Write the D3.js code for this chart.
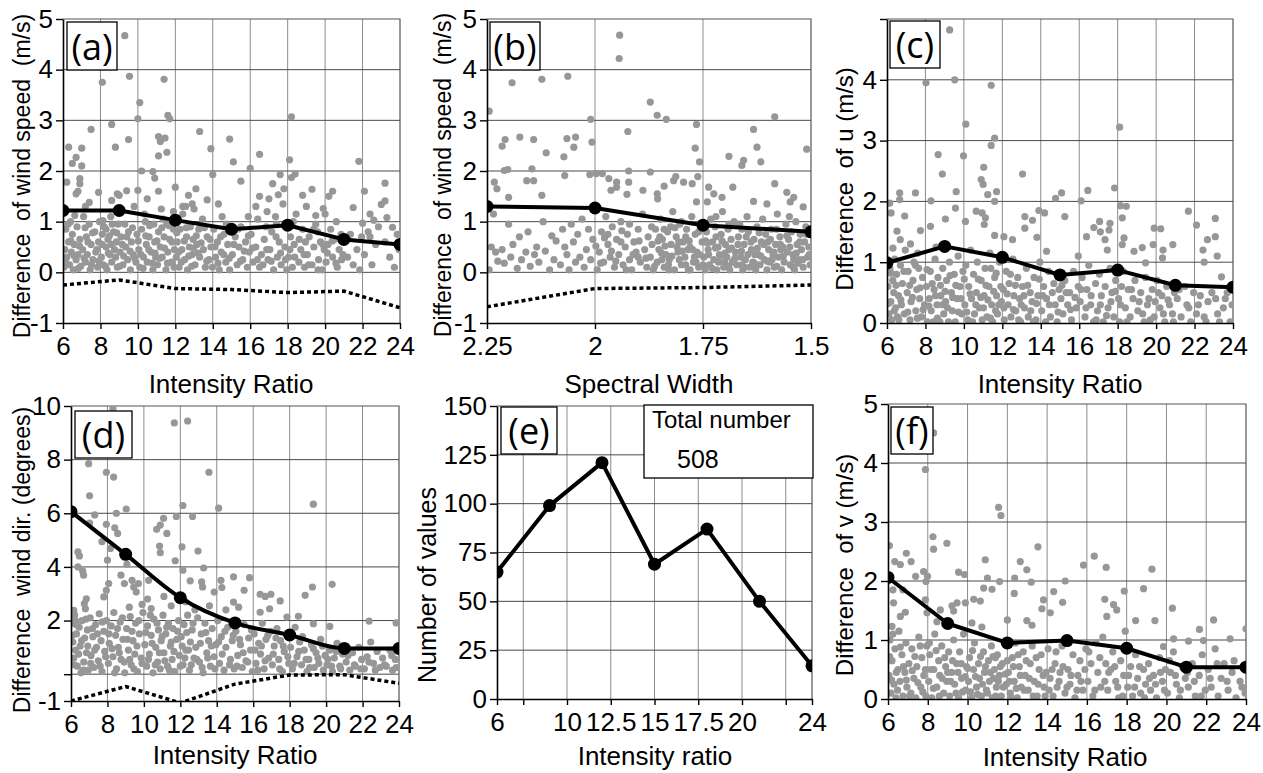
<!DOCTYPE html>
<html lang="en">
<head>
<meta charset="UTF-8">
<title>Wind difference panels</title>
<script src="https://d3js.org/d3.v7.min.js"></script>
<style>
  body { margin: 0; background: #fff; }
  svg text { font-family: "Liberation Sans", Arial, Helvetica, sans-serif; fill: #000; }
  .tick text { font-size: 26px; }
  .tag { font-family: "Open Sans", sans-serif; font-size: 36px; }
  .title { white-space: pre; }
</style>
</head>
<body>
<script>
// ---- tick values and labels ----
const ratioTicks = [6, 8, 10, 12, 14, 16, 18, 20, 22, 24];
const ratioLabels = ["6", "8", "10", "12", "14", "16", "18", "20", "22", "24"];
const widthTicks = [2.25, 2, 1.75, 1.5];
const widthLabels = ["2.25", "2", "1.75", "1.5"];
const speedTicks = [-1, 0, 1, 2, 3, 4, 5];
const speedLabels = ["-1", "0", "1", "2", "3", "4", "5"];
const compTicks = [0, 1, 2, 3, 4, 5];
const uLabels = ["0", "1", "2", "3", "4", ""];
const vLabels = ["0", "1", "2", "3", "4", "5"];
const dirTicks = [-1, 0, 2, 4, 6, 8, 10];
const dirLabels = ["-1", "", "2", "4", "6", "8", "10"];
const countTicks = [0, 25, 50, 75, 100, 125, 150];
const countLabels = ["0", "25", "50", "75", "100", "125", "150"];
const countXTicks = [6, 7.5, 10, 12.5, 15, 17.5, 20, 22.5, 24];
const countXLabels = ["6", "", "10", "12.5", "15", "17.5", "20", "", "24"];

// ---- binned means (solid) and biases (dotted) ----
const ratioX = [6, 9, 12, 15, 18, 21, 24];
const widthX = [2.25, 2.0, 1.75, 1.5];
const meanA = [1.22, 1.22, 1.03, 0.85, 0.93, 0.65, 0.55];
const biasA = [-0.25, -0.15, -0.32, -0.34, -0.4, -0.37, -0.7];
const meanB = [1.3, 1.27, 0.93, 0.8];
const biasB = [-0.68, -0.32, -0.3, -0.25];
const meanC = [0.99, 1.26, 1.08, 0.79, 0.87, 0.62, 0.59];
const meanD = [6.06, 4.47, 2.85, 1.91, 1.46, 0.96, 0.96];
const biasD = [-1, -0.46, -1.07, -0.37, -0.03, -0.02, -0.34];
const countE = [65, 99, 121, 69, 87, 50, 17];
const totalE = 508;
const meanF = [2.06, 1.28, 0.95, 0.99, 0.86, 0.54, 0.54];

// ---- individual differences ----
const scatterA = [
  [9.3,4.67],[8.1,3.75],[9.55,3.87],[11.4,3.81],[10.1,3.35],[10.0,3.03],[11.6,3.1],[11.7,3.03],[8.6,2.92],[13.3,2.78],
  [7.5,2.82],[8.8,2.47],[9.5,2.62],[6.3,2.47],[7.0,2.45],[6.7,2.27],[11.1,2.68],[11.2,2.58],[11.45,2.65],[11.55,2.37],
  [11.1,2.3],[14.9,2.63],[13.9,2.44],[15.1,2.18],[16.5,2.33],[18.2,3.07],[18.1,2.22],[21.8,2.19],[23.2,1.76],[23.2,1.41],
  [23.3,1.08],[23.6,0.89],[23.0,1.34],[22.6,1.03],[22.1,1.6],[22.0,0.97],[21.5,1.28],[20.4,1.6],[20.2,1.5],[19.9,1.26],
  [19.5,1.12],[19.3,1.64],[18.8,1.52],[18.4,1.94],[18.2,1.87],[17.6,1.93],[17.8,1.65],[17.5,1.53],[17.2,1.75],[16.0,2.05],
  [15.9,1.1],[15.5,1.8],[14.0,1.93],[13.7,1.43],[12.0,1.68],[13.1,1.65],[12.7,1.52],[12.9,1.35],[13.0,1.25],[10.2,2.0],
  [10.8,1.99],[10.9,1.86],[11.1,1.6],[9.4,1.61],[9.0,1.52],[8.9,1.55],[8.6,1.42],[7.9,1.58],[7.4,1.38],[7.2,1.3],
  [6.7,1.55],[6.9,1.85],[6.9,1.75],[6.8,1.6],[6.2,1.78],[6.5,2.15],[7.0,2.1],[10.5,1.45],[11.9,1.2],[12.4,1.3],
  [14.3,1.35],[16.3,1.3],[17.0,1.45],[19.0,1.3],[20.0,1.15],[22.4,1.15],[10.0,1.62],
  [6.05,0.1],[6.1,0.45],[6.15,0.85],[6.2,0.3],[6.3,0.6],[6.35,0.15],[6.4,1.0],[6.45,0.4],[6.5,0.75],[6.55,0.05],
  [6.6,0.55],[6.7,0.25],[6.75,0.9],[6.8,0.35],[6.9,0.65],[6.95,0.12],[7.05,0.45],[7.1,1.1],[7.2,0.2],[7.25,0.7],
  [7.3,0.35],[7.4,0.95],[7.45,0.05],[7.5,0.55],[7.6,0.25],[7.7,0.8],[7.75,0.4],[7.85,0.1],[7.9,0.6],[7.95,1.0],
  [8.05,0.3],[8.1,0.75],[8.15,0.15],[8.2,0.9],[8.3,0.5],[8.35,0.05],[8.4,0.65],[8.5,0.35],[8.55,1.1],[8.6,0.2],
  [8.7,0.8],[8.75,0.45],[8.85,0.6],[8.9,0.1],[8.95,0.95],[8.3,0.85],[8.6,0.55],[9.05,0.4],[9.1,0.7],[9.2,0.15],
  [9.3,0.95],[9.35,0.5],[9.45,0.25],[9.5,0.8],[9.6,0.05],[9.65,0.6],[9.75,0.35],[9.8,1.3],[9.9,0.2],[9.95,0.75],
  [10.05,0.45],[10.1,0.1],[10.2,0.85],[10.3,0.3],[10.35,1.15],[10.45,0.55],[10.5,0.2],[10.6,0.7],[10.7,0.4],[10.8,0.05],
  [10.85,0.95],[10.9,0.6],[10.95,0.3],[10.4,1.0],[11.05,0.15],[11.1,0.8],[11.2,0.5],[11.25,1.25],[11.3,0.3],[11.4,0.7],
  [11.5,0.05],[11.55,0.95],[11.6,0.4],[11.7,0.65],[11.8,0.2],[11.9,0.85],[11.95,0.45],[11.35,1.05],[12.05,0.3],[12.1,0.6],
  [12.2,0.1],[12.25,0.85],[12.35,0.45],[12.4,1.15],[12.5,0.25],[12.6,0.7],[12.65,0.05],[12.75,0.5],[12.8,0.9],[12.9,0.35],
  [12.95,0.65],[12.55,1.3],[13.05,0.15],[13.15,0.55],[13.25,0.85],[13.3,0.3],[13.45,1.05],[13.5,0.45],[13.6,0.1],[13.7,0.7],
  [13.8,0.25],[13.9,0.5],[14.05,0.85],[14.15,0.3],[14.25,0.6],[14.35,0.05],[14.45,0.4],[14.6,0.75],[14.7,0.2],[14.8,0.55],
  [14.9,0.05],[14.5,1.1],[15.05,0.35],[15.2,0.7],[15.3,0.15],[15.4,0.5],[15.5,0.9],[15.6,0.25],[15.75,0.6],[15.85,0.1],
  [15.95,0.4],[16.05,0.75],[16.15,0.2],[16.3,0.5],[16.4,1.05],[16.5,0.1],[16.6,0.35],[16.75,0.65],[16.85,0.9],[16.95,0.25],
  [16.5,1.5],[16.9,1.2],[17.05,0.45],[17.15,0.8],[17.25,0.05],[17.35,1.1],[17.45,0.3],[17.55,0.6],[17.65,0.15],[17.75,1.35],
  [17.85,0.5],[17.95,0.05],[17.4,0.95],[18.05,0.3],[18.15,0.7],[18.25,0.1],[18.35,0.55],[18.45,1.15],[18.6,0.2],[18.7,0.45],
  [18.8,0.85],[18.9,0.1],[18.95,0.6],[18.3,1.0],[19.05,0.35],[19.15,0.7],[19.3,0.15],[19.4,0.5],[19.5,0.95],[19.65,0.25],
  [19.75,0.6],[19.85,0.05],[19.95,0.45],[19.6,0.8],[20.05,0.2],[20.15,0.55],[20.3,0.85],[20.4,0.3],[20.5,0.65],[20.65,0.1],
  [20.75,0.45],[20.85,0.75],[20.95,0.35],[20.6,1.0],[21.2,0.3],[21.35,0.75],[21.5,0.15],[21.7,0.45],[21.85,0.05],[21.95,0.7],
  [22.1,0.35],[22.3,0.8],[22.5,0.15],[22.7,0.55],[22.85,0.9],[22.4,0.7],[23.2,0.6],[23.45,0.3],[23.7,0.1],[23.85,0.75],[23.95,0.45],
  [6.12,0.22],[6.27,0.95],[6.41,0.62],[6.58,0.33],[6.63,1.12],[6.82,0.08],[6.88,0.52],[7.13,0.28],[7.18,0.88],[7.33,0.6],
  [7.52,0.15],[7.58,0.78],[7.81,0.45],[7.92,0.22],[8.08,0.55],[8.13,1.02],[8.27,0.12],[8.42,0.38],[8.48,0.72],[8.63,0.95],
  [8.81,0.3],[8.87,0.78],[9.02,0.12],[9.17,0.55],[9.24,0.32],[9.41,0.7],[9.58,0.42],[9.71,0.88],[9.83,0.28],[10.02,0.62],
  [10.17,0.35],[10.28,0.08],[10.42,0.72],[10.58,0.45],[10.63,0.92],[10.77,0.18],[10.92,0.38],[11.02,0.62],[11.17,0.28],[11.28,0.88],
  [11.42,0.48],[11.58,0.18],[11.67,0.92],[11.82,0.6],[11.93,0.1],[12.08,0.78],[12.18,0.4],[12.32,0.2],[12.48,0.62],[12.58,0.88],
  [12.72,0.32],[12.87,0.12],[12.98,0.48],[13.12,0.72],[13.22,0.38],[13.38,0.58],[13.55,0.88],[13.68,0.22],[13.85,0.65],[13.98,0.1],
  [14.12,0.5],[14.28,0.18],[14.42,0.7],[14.58,0.35],[14.72,0.95],[14.88,0.28],[15.12,0.55],[15.35,0.85],[15.48,0.22],[15.68,0.42],
  [15.9,0.72],[16.12,0.48],[16.38,0.25],[16.68,0.15],[16.88,0.45],[17.12,0.22],[17.38,0.7],[17.62,0.38],[17.88,0.25],[18.12,0.45],
  [18.38,0.3],[18.62,0.65],[18.88,0.35],[19.12,0.15],[19.38,0.85],[19.62,0.05],[19.88,0.55],[20.12,0.38],[20.38,0.62],[20.58,0.18],[20.88,0.25]
];

const scatterB = [
  [1.943,4.68],[1.944,4.22],[2.192,3.74],[2.123,3.81],[2.063,3.87],[1.872,3.36],[1.856,3.1],[1.835,3.02],[1.765,2.92],[1.584,3.07],
  [2.245,3.18],[2.01,3.02],[2.007,2.57],[1.924,2.78],[1.768,2.45],[1.633,2.82],[1.625,2.47],[1.51,2.43],[2.174,2.67],[2.142,2.62],
  [2.065,2.64],[2.045,2.67],[2.049,2.47],[2.072,2.28],[2.113,2.36],[2.208,2.62],[2.215,2.49],[2.202,2.03],[2.21,2.01],[2.2,1.48],
  [2.233,1.78],[2.227,1.65],[2.146,2.04],[2.158,1.81],[2.142,1.81],[2.123,1.52],[2.07,1.91],[2.012,1.93],[1.997,1.95],[1.983,1.95],
  [1.968,1.85],[1.95,1.78],[1.963,1.62],[1.95,1.68],[1.922,1.78],[1.922,2.0],[1.926,1.54],[1.889,1.62],[1.872,1.98],[1.855,1.45],
  [1.84,1.7],[1.856,1.55],[1.813,1.89],[1.795,1.78],[1.775,1.75],[1.762,1.89],[1.758,2.18],[1.737,1.68],[1.725,1.55],[1.706,1.48],
  [1.69,2.29],[1.681,1.68],[1.66,2.11],[1.656,2.21],[1.616,2.18],[1.633,1.4],[1.602,1.35],[1.584,1.75],[1.556,1.58],[1.54,1.48],
  [1.548,1.39],[1.518,1.29],[1.74,1.39],[1.765,1.39],[1.818,1.81],
  [2.245,0.05],[2.24,0.5],[2.235,1.15],[2.23,0.4],[2.225,0.22],[2.215,0.45],[2.21,0.18],[2.2,0.95],[2.195,0.3],[2.19,0.55],
  [2.18,0.08],[2.175,0.7],[2.17,0.25],[2.16,0.4],[2.155,0.8],[2.15,0.12],[2.14,0.35],[2.135,0.5],[2.13,0.2],[2.12,1.0],
  [2.115,0.42],[2.105,0.05],[2.1,0.72],[2.095,0.25],[2.09,0.62],[2.08,0.15],[2.075,0.85],[2.07,0.5],[2.065,0.35],[2.06,0.05],
  [2.055,0.95],[2.05,0.6],[2.045,0.2],[2.04,0.75],[2.035,0.3],[2.03,1.05],[2.025,0.1],[2.02,0.45],[2.015,0.85],[2.01,0.25],
  [2.005,0.65],[1.995,0.05],[1.99,0.4],[1.985,0.8],[1.98,0.2],[1.975,1.1],[1.97,0.55],[1.965,0.3],[1.96,0.9],[1.955,0.1],
  [1.95,0.65],[1.945,0.35],[1.94,1.0],[1.935,0.15],[1.93,0.5],[1.925,0.75],[1.92,0.25],[1.915,0.05],[1.91,0.6],[1.905,0.4],
  [1.9,0.85],[1.895,0.2],[1.89,1.15],[1.885,0.45],[1.88,0.1],[1.877,0.7],[1.94,0.6],[1.97,0.75],[1.92,0.95],[1.9,0.3],
  [1.872,0.3],[1.868,0.55],[1.865,0.05],[1.86,0.85],[1.856,0.2],[1.852,0.45],[1.848,1.05],[1.844,0.65],[1.84,0.1],[1.836,0.35],
  [1.832,0.8],[1.828,0.25],[1.824,0.55],[1.82,1.2],[1.816,0.05],[1.812,0.7],[1.808,0.4],[1.804,0.95],[1.8,0.15],[1.796,0.6],
  [1.792,0.3],[1.788,0.85],[1.784,0.05],[1.78,0.5],[1.776,1.1],[1.772,0.2],[1.768,0.75],[1.764,0.4],[1.76,0.1],[1.756,0.95],
  [1.752,0.6],[1.85,0.7],[1.83,0.15],[1.81,0.5],[1.79,0.7],[1.77,0.3],[1.845,0.25],[1.825,0.9],[1.805,0.25],[1.785,0.45],
  [1.748,0.3],[1.745,0.05],[1.742,0.8],[1.738,0.45],[1.735,0.15],[1.732,1.05],[1.728,0.6],[1.725,0.25],[1.722,0.9],[1.718,0.05],
  [1.715,0.5],[1.712,0.35],[1.708,0.75],[1.705,1.2],[1.702,0.1],[1.698,0.55],[1.695,0.3],[1.692,0.85],[1.688,0.05],[1.685,0.65],
  [1.682,0.2],[1.678,1.0],[1.675,0.4],[1.672,0.15],[1.668,0.7],[1.665,0.95],[1.662,0.3],[1.658,0.05],[1.655,0.55],[1.652,0.25],
  [1.648,1.1],[1.645,0.8],[1.642,0.1],[1.638,0.45],[1.635,0.2],[1.632,0.65],[1.628,0.05],[1.625,0.9],[1.622,0.35],[1.618,0.15],
  [1.615,0.6],[1.612,1.05],[1.608,0.25],[1.605,0.75],[1.602,0.05],[1.598,0.45],[1.595,0.2],[1.592,0.85],[1.588,0.35],[1.585,0.1],
  [1.582,0.55],[1.578,1.15],[1.575,0.3],[1.572,0.7],[1.568,0.05],[1.565,0.5],[1.562,0.2],[1.558,0.95],[1.555,0.4],[1.552,0.65],
  [1.548,0.15],[1.545,0.8],[1.542,0.35],[1.538,0.05],[1.535,1.0],[1.532,0.55],[1.528,0.25],[1.525,0.75],[1.522,0.45],[1.518,0.1],
  [1.515,0.6],[1.512,0.9],[1.508,0.3],[1.505,0.5],[1.502,0.15],[1.72,0.7],[1.69,0.45],[1.66,0.15],[1.63,0.35],[1.6,0.6],
  [1.57,0.45],[1.54,0.25],[1.7,0.2],[1.65,0.7],
  [1.998,0.52],[1.987,0.18],[1.978,0.68],[1.962,0.42],[1.952,0.22],[1.938,0.82],[1.928,0.05],[1.912,0.35],[1.898,0.62],[1.882,0.28],
  [1.869,0.9],[1.862,0.12],[1.854,0.62],[1.846,0.38],[1.838,0.52],[1.829,0.05],[1.822,0.32],[1.815,0.88],[1.806,0.6],[1.798,0.42],
  [1.79,0.15],[1.782,0.62],[1.774,0.45],[1.766,0.2],[1.758,0.35],[1.75,0.15],[1.744,0.62],[1.737,0.35],[1.729,0.08],[1.721,0.48],
  [1.714,0.2],[1.706,0.62],[1.699,0.38],[1.691,0.12],[1.684,0.48],[1.676,0.28],[1.669,0.55],[1.661,0.42],[1.654,0.1],[1.646,0.35],
  [1.639,0.6],[1.631,0.18],[1.624,0.48],[1.616,0.32],[1.609,0.55],[1.601,0.22],[1.594,0.65],[1.586,0.4],[1.579,0.12],[1.571,0.55],
  [1.564,0.32],[1.556,0.72],[1.549,0.5],[1.541,0.1],[1.534,0.38],[1.526,0.6],[1.519,0.25],[1.511,0.75],[1.504,0.35],[1.69,0.95],
  [1.72,1.1],[1.66,0.85],[1.62,0.78],[1.58,0.85],[1.55,1.1],[1.76,0.8],[1.8,1.0],[1.84,0.85],[1.74,0.58],[1.71,0.32],
  [1.68,0.22],[1.63,0.12],[1.59,0.25],[1.53,0.18],[1.78,0.05]
];

const scatterC = [
  [9.26,4.82],[8.03,3.95],[9.52,4.0],[11.42,3.91],[10.1,3.27],[9.98,2.75],[11.6,3.04],[11.42,2.92],[18.1,3.22],[8.66,2.77],
  [8.88,2.45],[13.05,2.45],[11.03,2.56],[10.9,2.36],[11.0,2.28],[11.24,2.11],[11.7,2.16],[11.6,2.0],[9.6,2.16],[7.48,2.14],
  [6.66,2.14],[6.66,2.03],[6.14,1.97],[8.29,2.01],[9.56,1.89],[10.64,1.84],[13.9,1.85],[14.77,2.05],[15.08,2.14],[16.1,2.01],
  [16.45,2.18],[17.84,2.22],[18.15,1.93],[18.45,1.92],[21.68,1.84],[23.08,1.72],[22.1,1.61],[23.08,1.42],[22.67,1.37],[22.44,1.2],
  [23.18,1.1],[22.5,1.0],[23.4,0.76],[19.9,1.56],[20.24,1.55],[20.36,1.2],[20.33,1.07],[19.85,1.29],[20.87,1.29],[19.45,0.99],
  [19.28,1.24],[18.85,1.18],[18.33,1.4],[18.24,1.29],[18.24,1.73],[17.06,1.67],[17.6,1.64],[17.55,1.53],[17.1,1.5],[16.76,1.57],
  [16.38,1.42],[17.34,1.37],[17.46,1.2],[15.25,1.75],[14.2,1.81],[13.8,1.41],[13.17,1.75],[13.57,1.69],[13.17,1.56],[12.53,1.37],
  [12.08,1.42],[11.6,1.44],[11.12,1.73],[11.06,1.62],[10.95,1.81],[10.08,1.67],[9.04,1.71],[8.26,1.59],[7.74,1.52],[6.92,1.76],
  [6.52,1.51],[6.69,1.37],[7.22,1.3],[6.21,1.81],[6.31,1.23],[14.3,1.18],[15.95,1.1],
  [6.05,0.6],[6.1,0.15],[6.15,0.9],[6.2,0.35],[6.25,0.05],[6.3,0.7],[6.35,0.5],[6.4,1.05],[6.45,0.25],[6.5,0.8],
  [6.55,0.1],[6.6,0.45],[6.7,0.95],[6.75,0.3],[6.8,0.65],[6.9,0.15],[6.95,1.2],[7.05,0.5],[7.1,0.85],[7.2,0.05],
  [7.25,0.35],[7.35,0.7],[7.4,1.0],[7.5,0.2],[7.55,0.55],[7.65,0.9],[7.7,0.4],[7.8,0.1],[7.85,0.75],[7.95,0.3],
  [7.6,1.15],[8.05,0.6],[8.1,0.02],[8.2,0.4],[8.25,0.85],[8.3,0.2],[8.4,0.02],[8.45,0.55],[8.5,1.05],[8.6,0.3],
  [8.65,0.75],[8.75,0.02],[8.8,0.45],[8.9,0.9],[8.95,0.15],[8.55,1.25],[9.05,0.35],[9.1,0.7],[9.2,0.02],[9.25,1.0],
  [9.35,0.5],[9.4,0.2],[9.5,0.8],[9.55,0.02],[9.65,0.4],[9.7,1.1],[9.8,0.6],[9.9,0.15],[9.95,0.85],[10.05,0.3],
  [10.1,0.95],[10.2,0.05],[10.25,0.6],[10.35,1.2],[10.4,0.4],[10.5,0.8],[10.55,0.15],[10.65,0.5],[10.7,1.0],[10.8,0.25],
  [10.9,0.7],[10.95,0.05],[11.05,0.45],[11.1,0.9],[11.2,0.1],[11.3,0.6],[11.35,1.15],[11.45,0.3],[11.5,0.02],[11.6,0.75],
  [11.7,0.45],[11.75,0.15],[11.85,1.0],[11.95,0.35],[11.4,0.9],[11.65,0.2],[12.05,0.55],[12.1,0.05],[12.2,0.85],[12.3,0.3],
  [12.35,0.65],[12.45,0.1],[12.55,1.05],[12.6,0.45],[12.7,0.2],[12.8,0.75],[12.9,0.4],[12.95,0.02],[13.05,0.6],[13.15,0.25],
  [13.25,0.9],[13.35,0.1],[13.45,0.5],[13.55,0.35],[13.65,0.75],[13.75,0.05],[13.85,0.45],[13.95,1.0],[14.05,0.2],[14.15,0.6],
  [14.3,0.4],[14.4,0.85],[14.5,0.1],[14.6,0.5],[14.75,0.3],[14.85,0.02],[14.95,0.55],[15.05,0.4],[15.15,0.15],[15.25,0.7],
  [15.4,0.3],[15.5,0.5],[15.6,0.05],[15.7,0.85],[15.85,0.25],[15.95,0.6],[16.05,0.35],[16.15,0.75],[16.3,0.1],[16.4,0.55],
  [16.5,0.95],[16.6,0.3],[16.75,0.02],[16.85,0.65],[16.95,0.2],[17.05,0.8],[17.15,0.45],[17.25,0.02],[17.35,0.6],[17.5,0.25],
  [17.6,0.9],[17.7,0.5],[17.8,0.1],[17.9,0.7],[18.05,0.4],[18.1,0.02],[18.2,0.6],[18.3,0.85],[18.4,0.25],[18.55,0.55],
  [18.65,0.1],[18.8,0.4],[18.9,0.7],[19.05,0.2],[19.2,0.5],[19.3,0.15],[19.45,0.75],[19.55,0.3],[19.7,0.05],[19.8,0.55],
  [19.95,0.35],[20.05,0.7],[20.2,0.25],[20.3,0.45],[20.45,0.02],[20.55,0.6],[20.7,0.3],[20.85,0.15],[20.95,0.5],[21.1,0.4],
  [21.3,0.1],[21.5,0.6],[21.6,0.3],[21.8,0.02],[21.95,0.5],[22.1,0.15],[22.3,0.45],[22.5,0.1],[22.7,0.35],[22.9,0.5],
  [23.1,0.4],[23.3,0.02],[23.5,0.25],[23.7,0.5],[23.85,0.02],[23.95,0.3],
  [6.08,0.32],[6.22,0.82],[6.38,0.2],[6.47,0.62],[6.62,0.05],[6.72,0.38],[6.88,0.85],[7.08,0.18],[7.18,0.62],[7.32,0.42],
  [7.48,0.95],[7.58,0.08],[7.72,0.58],[7.88,0.22],[8.08,0.88],[8.18,0.28],[8.35,0.65],[8.52,0.45],[8.62,0.08],[8.78,0.62],
  [8.88,0.3],[9.02,0.52],[9.15,0.25],[9.28,0.78],[9.42,0.42],[9.58,0.62],[9.72,0.18],[9.85,0.4],[10.02,0.72],[10.15,0.18],
  [10.32,0.48],[10.45,0.02],[10.62,0.3],[10.75,0.72],[10.88,0.42],[11.02,0.25],[11.15,0.62],[11.25,0.38],[11.38,0.08],[11.55,0.52],
  [11.68,0.82],[11.82,0.3],[11.92,0.6],[12.08,0.25],[12.25,0.48],[12.42,0.8],[12.58,0.22],[12.68,0.62],[12.85,0.05],[12.98,0.3],
  [13.12,0.45],[13.32,0.62],[13.48,0.2],[13.62,0.02],[13.78,0.32],[13.92,0.72],[14.1,0.45],[14.25,0.02],[14.45,0.3],[14.68,0.65],
  [14.9,0.18],[15.1,0.62],[15.32,0.5],[15.55,0.22],[15.78,0.42],[16.1,0.55],[16.35,0.25],[16.62,0.45],[16.88,0.05],[17.1,0.3],
  [17.42,0.12],[17.65,0.35],[17.88,0.52],[18.15,0.3],[18.48,0.02],[18.72,0.55],[19.12,0.35],[19.38,0.02],[19.62,0.4],[19.9,0.1],
  [20.12,0.5],[20.38,0.15],[20.62,0.38],[20.9,0.02],[21.2,0.55],[21.7,0.25],[22.2,0.3],[22.6,0.02],[23.2,0.15],[23.6,0.4]
];

const scatterD = [
  [8.3,9.91],[11.67,9.37],[12.4,9.44],[6.97,7.85],[7.94,7.53],[8.34,7.35],[13.57,7.53],[7.02,6.65],[19.3,6.34],[12.14,6.29],
  [14.1,6.19],[9.03,6.16],[8.49,6.0],[11.78,5.88],[12.67,5.88],[7.3,5.94],[7.94,5.59],[8.4,5.46],[8.56,5.25],[7.02,5.63],
  [11.08,5.81],[10.9,5.56],[10.7,5.4],[11.26,5.25],[11.72,4.23],[12.09,4.75],[12.97,4.59],[6.38,4.56],[6.46,4.41],[7.7,4.94],
  [8.16,4.69],[8.0,4.25],[9.07,4.1],[10.86,4.78],[10.9,4.53],[6.38,4.0],[6.64,3.85],[6.69,3.69],[8.74,3.69],[8.93,3.38],
  [9.35,3.5],[9.44,3.25],[9.58,3.06],[9.7,3.38],[10.26,3.5],[12.14,3.88],[12.54,3.48],[13.28,3.96],[13.17,3.44],[13.22,3.25],
  [13.86,3.06],[14.23,3.5],[14.28,3.23],[14.92,3.63],[15.8,3.6],[15.5,3.13],[14.92,2.69],[16.38,2.98],[16.66,2.9],[16.97,2.98],
  [17.48,2.73],[16.9,2.44],[16.38,2.31],[18.85,2.94],[19.25,3.25],[20.33,3.35],[18.48,2.16],[17.85,2.13],[22.36,1.98],[23.84,1.91],
  [19.3,1.88],[20.2,1.78],[6.73,2.63],[6.84,2.81],[6.79,2.44],[7.8,2.88],[7.94,3.13],[8.07,3.38],[6.15,2.38],[6.24,2.0],
  [9.9,2.6],[10.4,2.45],[11.1,2.9],[11.5,2.55],[12.3,2.7],[12.8,2.4],[10.2,2.8],[9.2,2.5],[13.6,2.55],[14.5,2.4],[15.2,2.5],
  [6.05,1.9],[6.1,1.2],[6.15,0.6],[6.2,2.2],[6.25,0.9],[6.3,1.5],[6.35,0.3],[6.45,1.75],[6.5,1.05],[6.55,0.05],
  [6.6,2.0],[6.7,0.45],[6.75,1.35],[6.85,0.8],[6.9,1.65],[6.95,0.15],[7.05,2.1],[7.1,0.7],[7.2,1.4],[7.25,0.25],
  [7.35,1.85],[7.4,1.0],[7.5,0.5],[7.55,2.25],[7.65,1.25],[7.7,0.1],[7.8,1.6],[7.85,0.85],[7.95,2.0],[8.05,0.4],
  [8.1,1.15],[8.2,1.8],[8.3,0.65],[8.35,2.3],[8.45,1.45],[8.5,0.2],[8.6,1.0],[8.7,1.95],[8.75,0.55],[8.85,1.3],
  [8.95,0.05],[9.05,1.7],[9.15,0.9],[9.25,2.15],[9.3,0.35],[9.4,1.25],[9.5,0.75],[9.55,1.9],[9.65,0.1],[9.75,1.5],
  [9.85,0.6],[9.95,2.3],[10.05,1.1],[10.15,0.3],[10.2,1.8],[10.3,0.75],[10.4,1.45],[10.5,0.05],[10.55,2.05],[10.65,1.0],
  [10.75,0.45],[10.8,1.65],[10.9,0.2],[10.95,1.25],[11.05,2.2],[11.1,0.8],[11.2,1.5],[11.3,0.3],[11.35,1.9],[11.45,1.05],
  [11.55,0.55],[11.6,1.7],[11.7,0.1],[11.8,1.3],[11.9,2.0],[11.95,0.7],[12.05,1.4],[12.15,0.35],[12.2,1.85],[12.3,0.9],
  [12.4,2.2],[12.5,0.15],[12.55,1.2],[12.65,1.65],[12.75,0.6],[12.85,1.0],[12.95,2.1],[13.05,0.45],[13.15,1.5],[13.25,0.05],
  [13.35,1.9],[13.45,0.8],[13.55,1.25],[13.65,0.3],[13.75,1.7],[13.85,0.65],[13.95,1.1],[14.05,2.0],[14.15,0.4],[14.25,1.4],
  [14.4,0.15],[14.5,1.0],[14.6,1.75],[14.75,0.55],[14.85,1.25],[14.95,0.2],[15.05,1.6],[15.15,0.7],[15.3,1.1],[15.4,0.25],
  [15.5,1.85],[15.6,0.5],[15.75,1.35],[15.85,0.9],[15.95,0.1],[16.05,1.5],[16.15,0.4],[16.3,1.15],[16.4,0.75],[16.5,1.9],
  [16.6,0.2],[16.7,1.3],[16.85,0.6],[16.95,1.6],[17.05,0.35],[17.15,1.05],[17.3,1.7],[17.4,0.55],[17.5,1.25],[17.6,0.1],
  [17.7,0.85],[17.85,1.45],[17.95,0.4],[18.05,1.0],[18.15,0.2],[18.3,1.75],[18.4,0.65],[18.55,1.2],[18.65,0.35],[18.8,0.9],
  [18.95,0.1],[19.05,0.55],[19.2,1.1],[19.35,0.25],[19.45,0.8],[19.6,0.4],[19.7,1.3],[19.85,0.15],[19.95,0.7],[20.05,0.35],
  [20.2,0.9],[20.35,0.1],[20.45,0.6],[20.6,1.15],[20.75,0.3],[20.9,0.75],[21.1,0.45],[21.3,0.15],[21.45,0.8],[21.6,0.3],
  [21.8,1.0],[21.95,0.55],[22.1,0.2],[22.25,0.65],[22.45,1.2],[22.6,0.4],[22.8,0.85],[22.95,0.25],[23.1,0.6],[23.3,0.3],
  [23.5,0.9],[23.65,0.15],[23.8,0.55],[23.95,1.0],
  [6.08,1.45],[6.18,0.35],[6.28,1.85],[6.42,0.75],[6.58,1.25],[6.68,0.15],[6.82,2.05],[6.92,1.05],[7.08,0.4],[7.18,1.7],
  [7.3,0.9],[7.45,1.5],[7.6,0.3],[7.72,1.95],[7.9,0.65],[8.08,1.5],[8.25,0.95],[8.4,0.05],[8.55,1.7],[8.65,0.8],
  [8.82,2.1],[8.92,0.45],[9.1,1.3],[9.22,0.55],[9.35,1.6],[9.45,0.2],[9.62,1.05],[9.72,2.0],[9.9,0.4],[10.1,1.55],
  [10.25,0.55],[10.35,2.2],[10.45,1.15],[10.62,0.35],[10.72,1.9],[10.85,0.8],[11.0,1.4],[11.15,0.5],[11.25,1.75],[11.4,0.15],
  [11.5,1.2],[11.65,0.85],[11.85,1.6],[12.0,0.3],[12.1,1.05],[12.25,0.6],[12.35,1.55],[12.45,0.9],[12.6,0.35],[12.7,1.9],
  [12.9,0.55],[13.1,1.15],[13.2,0.25],[13.4,1.55],[13.5,0.6],[13.7,1.05],[13.9,0.2],[14.1,1.2],[14.3,0.75],[14.45,1.6],
  [14.7,0.35],[14.9,1.45],[15.1,0.3],[15.25,1.3],[15.45,0.8],[15.7,0.45],[15.9,1.65],[16.1,0.9],[16.25,0.15],[16.45,1.05],
  [16.65,0.5],[16.8,1.45],[17.1,0.75],[17.25,1.35],[17.45,0.2],[17.65,1.05],[17.9,0.65],[18.1,1.45],[18.25,0.4],[18.5,0.85],
  [18.7,1.4],[18.9,0.55],[19.1,0.25],[19.3,0.95],[19.55,0.6],[19.8,1.05],[20.1,0.55],[20.3,0.3],[20.55,0.85],[20.8,0.2],
  [21.2,0.7],[21.55,0.35],[21.9,0.2],[22.35,0.45],[22.7,0.15],[23.2,0.35],[23.6,0.7],[23.85,0.25]
];

const scatterF = [
  [8.29,4.51],[7.88,3.89],[11.56,3.25],[11.68,3.11],[8.26,2.75],[8.29,2.54],[8.96,2.64],[6.07,2.6],[6.34,2.33],[6.62,2.28],
  [6.92,2.47],[7.16,2.33],[7.79,2.16],[7.99,2.08],[7.91,1.99],[7.39,2.08],[9.55,2.15],[9.85,2.11],[10.89,2.36],[11.0,2.05],
  [11.61,1.99],[13.54,2.58],[12.65,2.33],[12.98,2.19],[13.2,1.98],[12.37,2.05],[15.83,2.27],[16.37,2.42],[16.97,2.23],[19.27,2.2],
  [18.85,1.87],[17.88,1.83],[14.91,2.0],[14.33,1.82],[20.3,1.54],[19.42,1.33],[18.45,1.33],[22.37,1.34],[24.0,1.19],[23.2,1.02],
  [21.66,1.18],[16.9,1.69],[17.34,1.6],[17.5,1.51],[17.0,1.4],[13.82,1.68],[13.74,1.53],[14.16,1.46],[14.78,1.64],[12.98,1.33],
  [13.24,1.25],[12.0,1.34],[12.35,1.79],[10.81,1.88],[11.23,1.86],[10.64,1.66],[10.31,1.69],[9.89,1.63],[9.47,1.63],[9.22,1.58],
  [9.3,1.49],[8.63,1.51],[7.96,1.46],[7.88,1.68],[6.75,1.85],[6.25,1.85],[6.28,1.63],[6.62,1.4],[6.2,1.23],[6.87,1.47],
  [10.22,1.29],[10.72,1.22],[8.46,1.31],[21.11,0.98],[21.86,0.99],[20.36,1.02],[19.85,0.89],[17.93,1.15],
  [6.05,0.4],[6.1,1.0],[6.15,0.1],[6.2,0.65],[6.3,0.25],[6.35,0.85],[6.4,0.02],[6.5,0.5],[6.55,1.15],[6.6,0.3],
  [6.7,0.75],[6.75,0.05],[6.85,0.45],[6.9,0.95],[6.95,0.2],[7.05,0.6],[7.15,0.1],[7.2,0.85],[7.3,0.35],[7.4,0.02],
  [7.45,0.55],[7.55,1.05],[7.65,0.2],[7.7,0.7],[7.8,0.4],[7.9,0.05],[7.95,0.9],[8.05,0.3],[8.1,0.75],[8.2,0.02],
  [8.3,0.5],[8.35,1.1],[8.45,0.2],[8.55,0.65],[8.6,0.4],[8.7,0.9],[8.8,0.1],[8.9,0.55],[8.95,0.3],[9.05,0.8],
  [9.1,0.05],[9.2,0.45],[9.3,1.0],[9.35,0.25],[9.45,0.6],[9.55,0.02],[9.6,0.8],[9.7,0.35],[9.8,1.1],[9.9,0.15],
  [9.95,0.55],[10.05,0.3],[10.1,0.7],[10.2,0.02],[10.3,0.5],[10.35,0.95],[10.45,0.2],[10.55,0.6],[10.6,0.35],[10.7,0.05],
  [10.8,0.8],[10.85,0.45],[10.95,0.15],[11.05,0.65],[11.1,0.3],[11.2,0.9],[11.25,0.02],[11.35,0.5],[11.45,0.2],[11.5,0.75],
  [11.6,0.4],[11.7,0.05],[11.75,0.6],[11.85,0.95],[11.95,0.25],[11.4,0.7],[11.3,0.35],[12.05,0.45],[12.15,0.1],[12.25,0.7],
  [12.35,0.3],[12.4,0.95],[12.5,0.02],[12.6,0.55],[12.7,0.2],[12.8,0.8],[12.9,0.4],[13.05,0.15],[13.15,0.6],[13.25,0.9],
  [13.35,0.3],[13.5,0.05],[13.6,0.5],[13.7,0.75],[13.85,0.2],[13.95,0.45],[14.05,0.85],[14.15,0.35],[14.3,0.05],[14.4,0.6],
  [14.5,0.2],[14.65,0.45],[14.75,0.9],[14.9,0.1],[15.05,0.5],[15.15,0.25],[15.3,0.75],[15.4,0.02],[15.55,0.4],[15.65,0.65],
  [15.8,0.15],[15.95,0.85],[16.05,0.3],[16.2,0.6],[16.3,0.05],[16.45,0.95],[16.55,0.45],[16.7,0.2],[16.8,1.05],[16.95,0.6],
  [17.05,0.15],[17.2,0.5],[17.3,0.8],[17.45,0.3],[17.6,0.02],[17.7,0.65],[17.85,0.4],[17.95,0.9],[18.05,0.2],[18.2,0.55],
  [18.3,0.05],[18.45,0.75],[18.55,0.35],[18.7,0.1],[18.85,0.5],[18.95,0.25],[19.1,0.6],[19.2,0.15],[19.35,0.4],[19.5,0.02],
  [19.65,0.7],[19.8,0.3],[19.95,0.5],[20.05,0.1],[20.2,0.45],[20.35,0.8],[20.5,0.25],[20.65,0.02],[20.8,0.55],[20.95,0.35],
  [21.1,0.2],[21.3,0.6],[21.45,0.05],[21.65,0.4],[21.8,0.75],[21.95,0.15],[22.1,0.5],[22.25,0.2],[22.45,0.85],[22.6,0.05],
  [22.75,0.35],[22.9,0.6],[23.1,0.15],[23.3,0.45],[23.5,0.02],[23.7,0.3],[23.85,0.55],[23.95,0.1],
  [6.08,0.72],[6.18,0.32],[6.25,1.1],[6.42,0.45],[6.48,0.15],[6.62,0.88],[6.78,0.55],[6.92,0.32],[7.08,0.05],[7.22,0.48],
  [7.35,0.72],[7.5,0.28],[7.62,0.9],[7.75,0.12],[7.88,0.5],[8.08,0.95],[8.15,0.5],[8.28,0.18],[8.42,0.82],[8.58,0.05],
  [8.72,0.35],[8.85,0.7],[9.0,0.45],[9.15,0.3],[9.25,0.65],[9.42,0.1],[9.52,0.45],[9.68,0.6],[9.75,0.12],[9.88,0.38],
  [10.0,0.52],[10.15,0.12],[10.25,0.82],[10.4,0.38],[10.5,0.08],[10.65,0.72],[10.75,0.25],[10.9,0.55],[11.0,0.1],[11.15,0.45],
  [11.28,0.72],[11.42,0.05],[11.55,0.3],[11.65,0.55],[11.8,0.2],[11.9,0.42],[12.0,0.65],[12.1,0.3],[12.2,0.02],[12.3,0.55],
  [12.45,0.18],[12.55,0.75],[12.65,0.4],[12.85,0.15],[12.95,0.65],[13.1,0.35],[13.3,0.05],[13.45,0.7],[13.55,0.25],[13.8,0.4],
  [13.9,0.05],[14.1,0.15],[14.25,0.5],[14.45,0.8],[14.6,0.3],[14.8,0.55],[15.0,0.2],[15.2,0.4],[15.5,0.15],[15.7,0.3],
  [15.9,0.5],[16.1,0.8],[16.4,0.15],[16.65,0.7],[16.9,0.3],[17.1,0.45],[17.4,0.55],[17.55,0.2],[17.8,0.05],[18.1,0.4],
  [18.4,0.2],[18.65,0.55],[18.9,0.02],[19.15,0.35],[19.45,0.25],[19.7,0.45],[19.9,0.15],[20.15,0.65],[20.45,0.4],[20.7,0.15],
  [21.05,0.45],[21.4,0.3],[21.75,0.05],[22.2,0.35],[22.55,0.6],[23.05,0.3],[23.4,0.65],[23.8,0.2]
];

// ---- layout of the six panels (plot box in px, title anchors) ----
const panels = [
  { key: "a", l: 63, r: 400, t: 19, b: 323, xDom: [6, 24], yDom: [-1, 5],
    xTicks: ratioTicks, xLabels: ratioLabels, yTicks: speedTicks, yLabels: speedLabels,
    dots: scatterA, lineX: ratioX, mean: meanA, bias: biasA,
    xTitle: "Intensity Ratio", xt: [231, 393], yTitle: "Difference  of wind speed  (m/s)", yt: [30, 176], ys: 23,
    tagBox: [67, 22, 50, 48] },
  { key: "b", l: 487, r: 811, t: 19, b: 323, xDom: [2.25, 1.5], yDom: [-1, 5],
    xTicks: widthTicks, xLabels: widthLabels, yTicks: speedTicks, yLabels: speedLabels,
    dots: scatterB, lineX: widthX, mean: meanB, bias: biasB,
    xTitle: "Spectral Width", xt: [649, 393], yTitle: "Difference  of wind speed  (m/s)", yt: [451, 175], ys: 23,
    tagBox: [490, 22, 50, 48] },
  { key: "c", l: 887, r: 1233, t: 19, b: 323, xDom: [6, 24], yDom: [0, 5],
    xTicks: ratioTicks, xLabels: ratioLabels, yTicks: compTicks, yLabels: uLabels,
    dots: scatterC, lineX: ratioX, mean: meanC, bias: null,
    xTitle: "Intensity Ratio", xt: [1060, 393], yTitle: "Difference  of u (m/s)", yt: [853, 179], ys: 24,
    tagBox: [890, 21, 50, 47] },
  { key: "d", l: 71, r: 399, t: 406, b: 701, xDom: [6, 24], yDom: [-1, 10],
    xTicks: ratioTicks, xLabels: ratioLabels, yTicks: dirTicks, yLabels: dirLabels,
    dots: scatterD, lineX: ratioX, mean: meanD, bias: biasD, smooth: true,
    xTitle: "Intensity Ratio", xt: [235, 764], yTitle: "Difference  wind dir. (degrees)", yt: [30, 560], ys: 23,
    tagBox: [75, 411, 57, 47] },
  { key: "e", l: 497, r: 812, t: 406, b: 699, xDom: [6, 24], yDom: [0, 150],
    xTicks: countXTicks, xLabels: countXLabels, yTicks: countTicks, yLabels: countLabels,
    dots: [], lineX: ratioX, mean: countE, bias: null,
    xTitle: "Intensity ratio", xt: [655, 765], yTitle: "Number of values", yt: [436, 585], ys: 25,
    tagBox: [501, 407, 56, 47] },
  { key: "f", l: 888, r: 1246, t: 404, b: 699, xDom: [6, 24], yDom: [0, 5],
    xTicks: ratioTicks, xLabels: ratioLabels, yTicks: compTicks, yLabels: vLabels,
    dots: scatterF, lineX: ratioX, mean: meanF, bias: null,
    xTitle: "Intensity Ratio", xt: [1065, 766], yTitle: "Difference  of v (m/s)", yt: [853, 565], ys: 24,
    tagBox: [891, 407, 42, 47] }
];

const svg = d3.select("body").append("svg")
  .attr("width", 1263).attr("height", 773);
const defs = svg.append("defs");

panels.forEach(p => {
  const x = d3.scaleLinear().domain(p.xDom).range([p.l, p.r]);
  const y = d3.scaleLinear().domain(p.yDom).range([p.b, p.t]);
  const [x0, x1] = d3.extent(p.xDom), [y0, y1] = d3.extent(p.yDom);
  const g = svg.append("g").attr("id", "panel-" + p.key);

  defs.append("clipPath").attr("id", "clip-" + p.key)
    .append("rect").attr("x", p.l).attr("y", p.t)
    .attr("width", p.r - p.l).attr("height", p.b - p.t);

  // grid: vertical lighter, horizontal darker
  g.append("g").selectAll("line")
    .data(p.xTicks.filter(v => v > x0 && v < x1))
    .join("line")
    .attr("x1", d => x(d)).attr("x2", d => x(d))
    .attr("y1", p.t).attr("y2", p.b)
    .attr("stroke", "#8c8c8c").attr("stroke-width", 1);
  g.append("g").selectAll("line")
    .data(p.yTicks.filter(v => v > y0 && v < y1))
    .join("line")
    .attr("x1", p.l).attr("x2", p.r)
    .attr("y1", d => y(d)).attr("y2", d => y(d))
    .attr("stroke", "#4a4a4a").attr("stroke-width", 1);

  // frame top / right
  g.append("path")
    .attr("d", `M${p.l},${p.t}H${p.r}V${p.b}`)
    .attr("fill", "none").attr("stroke", "#555").attr("stroke-width", 1.2);

  const plot = g.append("g").attr("clip-path", `url(#clip-${p.key})`);

  plot.append("g").selectAll("circle")
    .data(p.dots)
    .join("circle")
    .attr("cx", d => x(d[0])).attr("cy", d => y(d[1]))
    .attr("r", 3.6).attr("fill", "#979797");

  if (p.bias) {
    plot.append("path")
      .datum(p.lineX.map((v, i) => [v, p.bias[i]]))
      .attr("fill", "none").attr("stroke", "#000")
      .attr("stroke-width", 3.5).attr("stroke-dasharray", "4,3")
      .attr("d", d3.line().x(d => x(d[0])).y(d => y(d[1])));
  }

  const meanPts = p.lineX.map((v, i) => [v, p.mean[i]]);
  plot.append("path")
    .datum(meanPts)
    .attr("fill", "none").attr("stroke", "#000").attr("stroke-width", 4)
    .attr("stroke-linejoin", "round")
    .attr("d", d3.line().curve(p.smooth ? d3.curveMonotoneX : d3.curveLinear)
      .x(d => x(d[0])).y(d => y(d[1])));
  plot.append("g").selectAll("circle")
    .data(meanPts)
    .join("circle")
    .attr("cx", d => x(d[0])).attr("cy", d => y(d[1]))
    .attr("r", 6.5).attr("fill", "#000");

  // axes
  const xa = g.append("g").attr("transform", `translate(0,${p.b})`)
    .call(d3.axisBottom(x).tickValues(p.xTicks)
      .tickFormat((d, i) => p.xLabels[i]).tickSize(6).tickPadding(8).tickSizeOuter(0));
  const ya = g.append("g").attr("transform", `translate(${p.l},0)`)
    .call(d3.axisLeft(y).tickValues(p.yTicks)
      .tickFormat((d, i) => p.yLabels[i]).tickSize(7).tickPadding(3).tickSizeOuter(0));
  [xa, ya].forEach(a => {
    a.attr("font-family", null).attr("font-size", null);
    a.select(".domain").attr("stroke", "#000").attr("stroke-width", 1.6);
    a.selectAll(".tick line").attr("stroke", "#000").attr("stroke-width", 1.4);
  });

  // titles
  g.append("text").attr("class", "title")
    .attr("x", p.xt[0]).attr("y", p.xt[1])
    .attr("text-anchor", "middle").style("font-size", "26px")
    .text(p.xTitle);
  g.append("text").attr("class", "title")
    .attr("transform", `translate(${p.yt[0]},${p.yt[1]}) rotate(-90)`)
    .attr("text-anchor", "middle").style("font-size", p.ys + "px")
    .text(p.yTitle);

  // panel tag
  const [bx, by, bw, bh] = p.tagBox;
  g.append("rect").attr("x", bx).attr("y", by).attr("width", bw).attr("height", bh)
    .attr("fill", "#fff").attr("stroke", "#000").attr("stroke-width", 1.3);
  g.append("text").attr("class", "tag")
    .attr("x", bx + bw / 2).attr("y", by + bh / 2)
    .attr("text-anchor", "middle").attr("dominant-baseline", "central")
    .text(`(${p.key})`);

  if (p.key === "e") {
    g.append("rect").attr("x", 644).attr("y", 405).attr("width", 169).attr("height", 73)
      .attr("fill", "#fff").attr("stroke", "#000").attr("stroke-width", 1.3);
    g.append("text").attr("x", 652).attr("y", 428).style("font-size", "24px").text("Total number");
    g.append("text").attr("x", 677).attr("y", 468).style("font-size", "25px").text(totalE);
  }
});
</script>
</body>
</html>
